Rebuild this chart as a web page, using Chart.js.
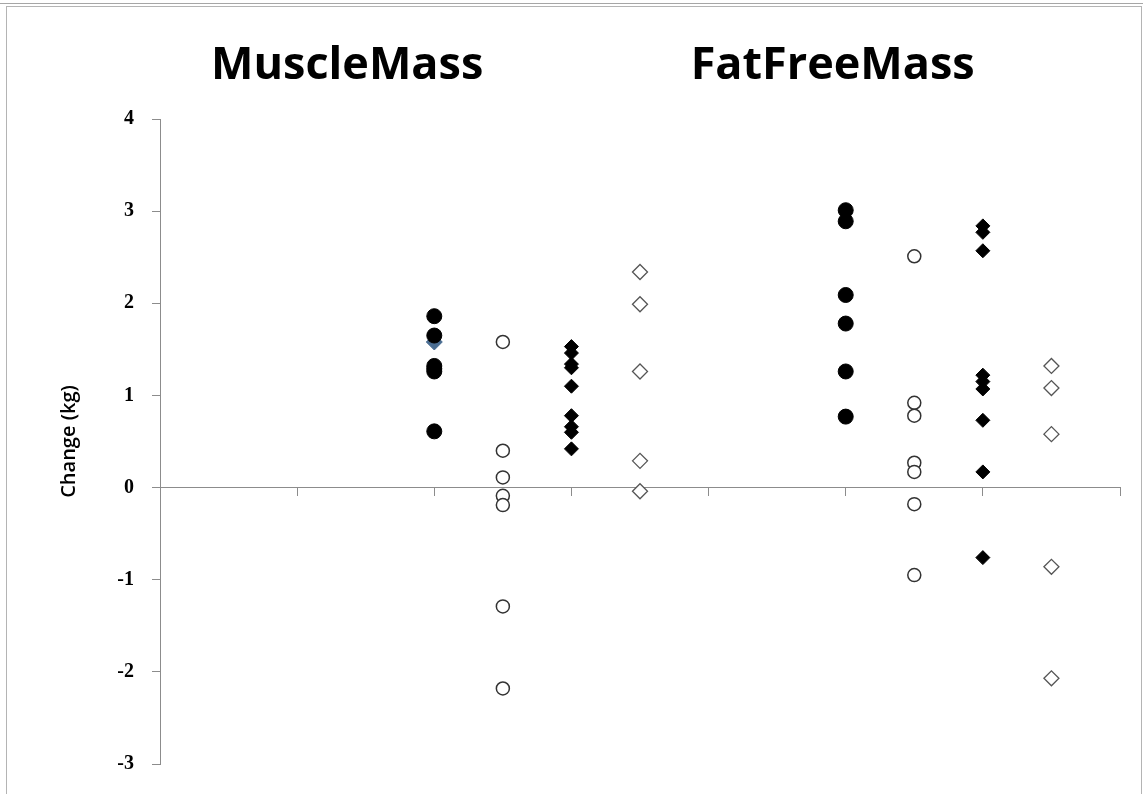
<!DOCTYPE html>
<html>
<head>
<meta charset="utf-8">
<script src="https://cdn.jsdelivr.net/npm/chart.js@4.4.1/dist/chart.umd.min.js"></script>
<style>
  body { margin: 0; background: #fff; }
  #wrap { position: relative; width: 1143px; height: 794px; overflow: hidden; }
  #topline { position: absolute; left: 0; top: 3px; width: 1143px; height: 1px; background: #a6a6a6; }
  #frame { position: absolute; left: 6px; top: 6px; width: 1134px; height: 820px; border: 1px solid #b4b4b4; }
  #box { position: absolute; left: 0; top: 0; width: 1143px; height: 794px; }
</style>
</head>
<body>
<div id="wrap">
  <div id="topline"></div>
  <div id="frame"></div>
  <div id="box"><canvas id="scatter-chart"></canvas></div>
</div>
<script>
var groupTitles = ["MuscleMass", "FatFreeMass"];
var yTicks = [-3, -2, -1, 0, 1, 2, 3, 4];
// x value of each marker column: 4 per group
var columnX = [2, 2.5, 3, 3.5, 5, 5.5, 6, 6.5];

// MuscleMass columns
var muscleFilledCircle = [1.86, 1.65, 1.32, 1.29, 1.26, 0.61];
var muscleOpenCircle = [1.58, 0.40, 0.11, -0.09, -0.19, -1.29, -2.18];
var muscleFilledDiamond = [1.53, 1.46, 1.34, 1.30, 1.10, 0.78, 0.66, 0.60, 0.42];
var muscleOpenDiamond = [2.34, 1.99, 1.26, 0.29, -0.04];
var muscleStray = [1.58];

// FatFreeMass columns
var ffmFilledCircle = [3.01, 2.89, 2.09, 1.78, 1.26, 0.77];
var ffmOpenCircle = [2.51, 0.92, 0.78, 0.27, 0.17, -0.18, -0.95];
var ffmFilledDiamond = [2.84, 2.77, 2.57, 1.22, 1.15, 1.07, 0.73, 0.17, -0.76];
var ffmOpenDiamond = [1.32, 1.08, 0.58, -0.86, -2.07];

function pts(xv, arr) {
  return arr.map(function (v) { return { x: xv, y: v }; });
}

function filledCircle(label, data) {
  return { label: label, data: data, pointStyle: "circle", pointRadius: 7.5,
    backgroundColor: "#000", borderColor: "#000", borderWidth: 1 };
}
function openCircle(label, data) {
  return { label: label, data: data, pointStyle: "circle", pointRadius: 6.5,
    backgroundColor: "#fff", borderColor: "#333", borderWidth: 1.5 };
}
function filledDiamond(label, data) {
  return { label: label, data: data, pointStyle: "rectRot", pointRadius: 7,
    backgroundColor: "#000", borderColor: "#000", borderWidth: 1 };
}
function openDiamond(label, data) {
  return { label: label, data: data, pointStyle: "rectRot", pointRadius: 7.5,
    backgroundColor: "#fff", borderColor: "#555", borderWidth: 1.3 };
}

var groupTitlePlugin = {
  id: "groupTitles",
  afterDraw: function (chart) {
    var ctx = chart.ctx;
    var xs = chart.scales.x;
    ctx.save();
    ctx.fillStyle = "#000";
    ctx.font = "bold 45px 'Open Sans'";
    ctx.textAlign = "center";
    ctx.textBaseline = "alphabetic";
    ctx.fillText(groupTitles[0], xs.getPixelForValue(1.365), 79);
    ctx.fillText(groupTitles[1], xs.getPixelForValue(4.905), 79);
    ctx.restore();
  }
};

new Chart(document.getElementById("scatter-chart"), {
  type: "scatter",
  data: {
    datasets: [
      filledCircle("MuscleMass A", pts(columnX[0], muscleFilledCircle)),
      openCircle("MuscleMass B", pts(columnX[1], muscleOpenCircle)),
      filledDiamond("MuscleMass C", pts(columnX[2], muscleFilledDiamond)),
      openDiamond("MuscleMass D", pts(columnX[3], muscleOpenDiamond)),
      filledCircle("FatFreeMass A", pts(columnX[4], ffmFilledCircle)),
      openCircle("FatFreeMass B", pts(columnX[5], ffmOpenCircle)),
      filledDiamond("FatFreeMass C", pts(columnX[6], ffmFilledDiamond)),
      openDiamond("FatFreeMass D", pts(columnX[7], ffmOpenDiamond)),
      { label: "stray", data: pts(columnX[0], muscleStray), pointStyle: "rectRot", pointRadius: 8,
        backgroundColor: "#4a6d92", borderColor: "#4a6d92", borderWidth: 1 }
    ]
  },
  options: {
    responsive: true,
    maintainAspectRatio: false,
    animation: false,
    layout: { padding: { left: 0, top: 119, right: 23, bottom: 27 } },
    plugins: {
      legend: { display: false },
      tooltip: { enabled: false }
    },
    scales: {
      x: {
        type: "linear",
        position: { y: 0 },
        min: 0,
        max: 7,
        ticks: { display: false, stepSize: 1 },
        grid: { drawOnChartArea: false, drawTicks: true, tickLength: 8, color: "#8c8c8c" },
        border: { display: true, color: "#8c8c8c", width: 1 }
      },
      y: {
        min: -3,
        max: 4,
        afterFit: function (scale) { scale.width = 160; },
        afterBuildTicks: function (scale) {
          scale.ticks = yTicks.map(function (v) { return { value: v }; });
        },
        ticks: {
          color: "#000",
          padding: 18,
          font: { family: "'Liberation Serif'", size: 20, weight: "bold" }
        },
        grid: { drawOnChartArea: false, drawTicks: true, tickLength: 8, color: "#8c8c8c" },
        border: { display: true, color: "#8c8c8c", width: 1 },
        title: {
          display: true,
          text: "Change (kg)",
          color: "#000",
          padding: { top: 57, bottom: 0 },
          font: { family: "'Open Sans'", size: 20, weight: "600" }
        }
      }
    }
  },
  plugins: [groupTitlePlugin]
});
</script>
</body>
</html>
